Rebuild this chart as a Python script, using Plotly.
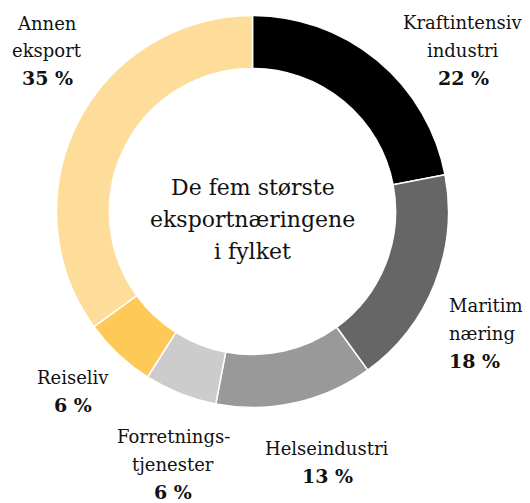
import plotly.graph_objects as go

# Export shares by industry (percent), clockwise from 12 o'clock
industries = ["Kraftintensiv industri", "Maritim næring", "Helseindustri",
              "Forretningstjenester", "Reiseliv", "Annen eksport"]
label_lines = [["Kraftintensiv", "industri"], ["Maritim", "næring"], ["Helseindustri"],
               ["Forretnings-", "tjenester"], ["Reiseliv"], ["Annen", "eksport"]]
shares = [22, 18, 13, 6, 6, 35]
center_title = ["De fem største", "eksportnæringene", "i fylket"]

colors = ["#000000", "#666666", "#999999", "#cccccc", "#fec957", "#fedc99"]

W, H = 530, 503
CX, CY, R = 252.5, 211.5, 196          # donut centre and outer radius (px)
HOLE = 0.73

# label blocks: (centre x px, middle y px, x anchor)
label_pos = [(463, 50, "center"), (448, 333, "left"), (327, 462, "center"),
             (173, 464, "center"), (73, 391, "center"), (47, 51, "center")]

FONT = "DejaVu Serif"
LABEL_SIZE = 18
PCT_SIZE = 19
LINE_GAP = 27.5


def add_block(annotations, lines, x, ymid, anchor, gap, sizes):
    n = len(lines)
    for i, (txt, size) in enumerate(zip(lines, sizes)):
        y = ymid + (i - (n - 1) / 2) * gap
        annotations.append(dict(
            x=x / W, y=1 - y / H, xref="paper", yref="paper",
            text=txt, showarrow=False, xanchor=anchor, yanchor="middle",
            align=anchor, borderpad=0,
            font=dict(family=FONT, size=size, color="#111111"),
        ))


fig = go.Figure(go.Pie(
    labels=industries,
    values=shares,
    sort=False,
    direction="clockwise",
    rotation=0,
    hole=HOLE,
    textinfo="none",
    hoverinfo="label+percent",
    marker=dict(colors=colors, line=dict(color="#ffffff", width=1.5)),
    domain=dict(x=[(CX - R) / W, (CX + R) / W],
                y=[(H - CY - R) / H, (H - CY + R) / H]),
    showlegend=False,
))

annotations = []
for lines, val, (x, y, anchor) in zip(label_lines, shares, label_pos):
    add_block(annotations, lines + [f"<b>{val} %</b>"], x, y, anchor, LINE_GAP,
              [LABEL_SIZE] * len(lines) + [PCT_SIZE])

add_block(annotations, center_title, CX, 219, "center", 32, [22] * 3)

fig.update_layout(
    width=W, height=H,
    margin=dict(l=0, r=0, t=0, b=0),
    paper_bgcolor="#ffffff",
    plot_bgcolor="#ffffff",
    annotations=annotations,
)

fig.write_html("out.html", config={"displayModeBar": False})
